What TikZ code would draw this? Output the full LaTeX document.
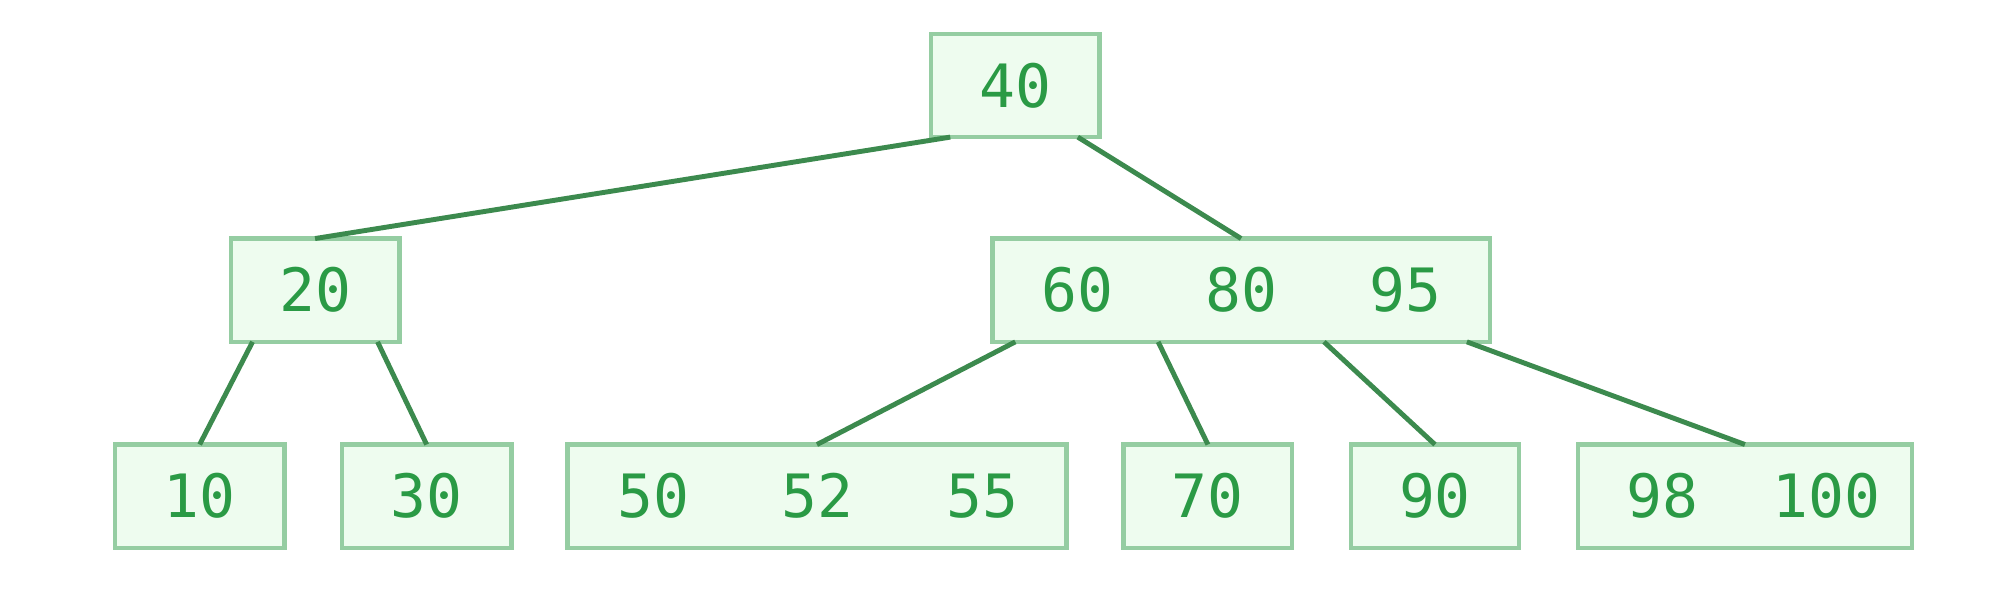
\documentclass[tikz,border=0pt]{standalone}
\usepackage{fontspec}
\setmonofont{DejaVu Sans Mono}
\usetikzlibrary{calc}
\definecolor{boxfill}{HTML}{EEFCEF}
\definecolor{boxdraw}{HTML}{95CDA2}
\definecolor{txt}{HTML}{2A9A45}
\definecolor{edge}{HTML}{3C8A4E}
\newcommand\myu{0.012755cm}
\begin{document}
\begin{tikzpicture}[x=0.012755cm,y=-0.012755cm,
  keybox/.style={draw=boxdraw,fill=boxfill,line width=1.3pt,inner sep=0pt,outer sep=0pt,minimum height=81*\myu},
  keytxt/.style={text=txt,font=\ttfamily\fontsize{17}{20}\selectfont,inner sep=0pt},
  link/.style={draw=edge,line width=1.4pt}]
\useasboundingbox (0,0) rectangle (1568,464);
% boxes
\node[keybox,minimum width=132*\myu] (root) at (796,67) {};
\node[keybox,minimum width=132*\myu] (n20) at (247,227.5) {};
\node[keybox,minimum width=390*\myu] (nR) at (973,227.5) {};
\node[keybox,minimum width=133*\myu] (n10) at (156.5,389) {};
\node[keybox,minimum width=133*\myu] (n30) at (334.5,389) {};
\node[keybox,minimum width=391*\myu] (n50) at (640.5,389) {};
\node[keybox,minimum width=132*\myu] (n70) at (947,389) {};
\node[keybox,minimum width=132*\myu] (n90) at (1125,389) {};
\node[keybox,minimum width=262*\myu] (n98) at (1368,389) {};
% texts
\node[keytxt] (t40) at (796,67) {40};
\node[keytxt] (t20) at (247,227.5) {20};
\node[keytxt] (t60) at (845,227.5) {60};
\node[keytxt] (t80) at (973,227.5) {80};
\node[keytxt] (t95) at (1102,227.5) {95};
\node[keytxt] (t10) at (156.5,389) {10};
\node[keytxt] (t30) at (334.5,389) {30};
\node[keytxt] (t50) at (512,389) {50};
\node[keytxt] (t52) at (641,389) {52};
\node[keytxt] (t55) at (770,389) {55};
\node[keytxt] (t70) at (947,389) {70};
\node[keytxt] (t90) at (1125,389) {90};
\node[keytxt] (t98) at (1303,389) {98};
\node[keytxt] (t100) at (1432,389) {100};
% connectors
\draw[link] ([xshift=15*\myu]root.south west) -- (n20.north);
\draw[link] ([xshift=115*\myu]root.south west) -- (nR.north);
\draw[link] ([xshift=17*\myu]n20.south west) -- (n10.north);
\draw[link] ([xshift=115*\myu]n20.south west) -- (n30.north);
\draw[link] ([xshift=18*\myu]nR.south west) -- (n50.north);
\draw[link] ([xshift=130*\myu]nR.south west) -- (n70.north);
\draw[link] ([xshift=260*\myu]nR.south west) -- (n90.north);
\draw[link] ([xshift=372*\myu]nR.south west) -- (n98.north);
\end{tikzpicture}
\end{document}
